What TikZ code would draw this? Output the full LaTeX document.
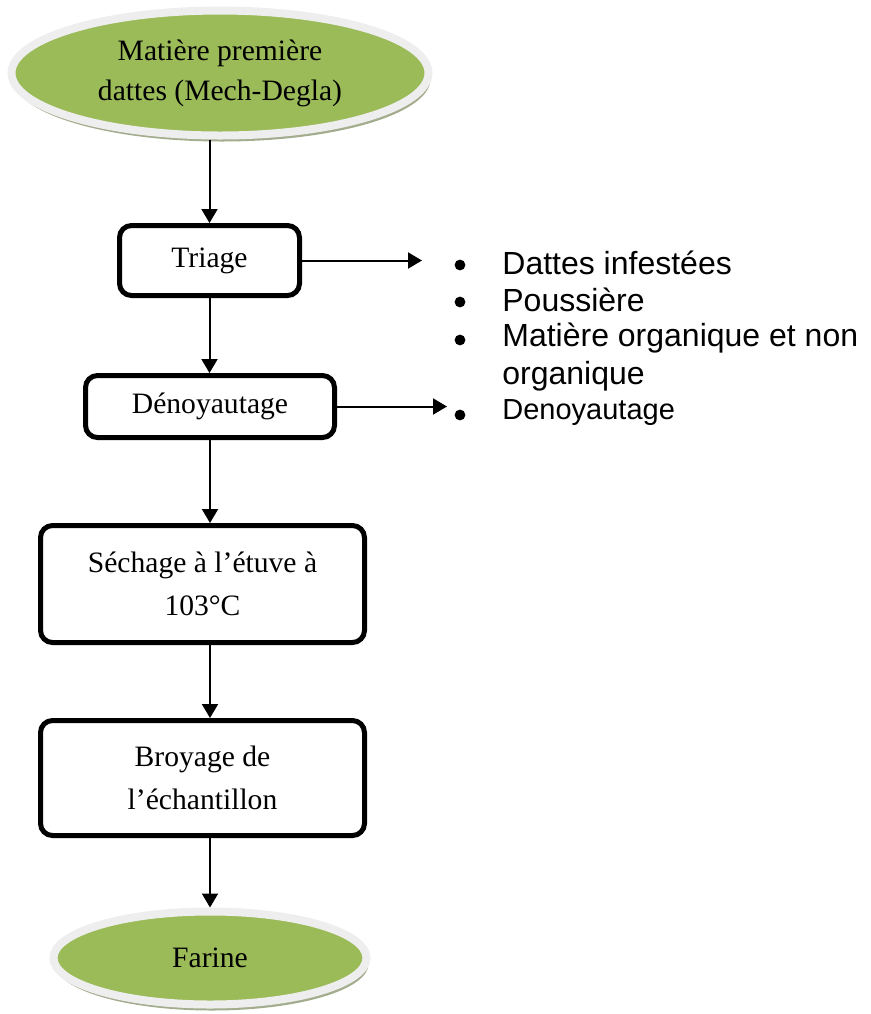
\documentclass[tikz,border=0pt]{standalone}
\usepackage{fontspec}
\setmainfont{Liberation Serif}
\newfontfamily\arialfont{Liberation Sans}
\usepackage{tikz}
\usetikzlibrary{shapes,arrows.meta,shadows}
\definecolor{olivegreen}{HTML}{9BBB59}
\definecolor{ringgrey}{HTML}{EEEEEE}
\definecolor{shadowgrey}{HTML}{A3AD8E}
\tikzstyle{block} = [rectangle, draw, line width=2.5pt, rounded corners=6pt,
                     align=center, font=\fontsize{14.8}{21.5}\selectfont]
\tikzstyle{terminal} = [ellipse, draw=ringgrey, line width=4pt, fill=olivegreen,
                     align=center, font=\fontsize{14.8}{20}\selectfont,
                     drop shadow={shadow xshift=1pt, shadow yshift=-3pt, fill=shadowgrey, opacity=1}]
\tikzstyle{line} = [draw, line width=1pt, -{Triangle[width=8pt,length=7pt]}]
\tikzstyle{item} = [anchor=west, inner sep=0pt, align=left,
                     font=\arialfont\fontsize{16}{19}\selectfont]
\tikzstyle{bul} = [circle, fill=black, inner sep=0pt, minimum size=5.4pt]

\begin{document}
\begin{tikzpicture}[x=0.5pt, y=-0.5pt]
\useasboundingbox (0,0) rectangle (871,1014);

%Raw material
\node[terminal, minimum width=208.5pt, minimum height=62.5pt] at (220,73) (raw){Matière première\\dattes (Mech-Degla)};

%Steps
\node[block, minimum width=90pt, minimum height=35pt] at (209.5,260.5) (triage){Triage};
\node[block, minimum width=124.5pt, minimum height=31pt] at (210,406.5) (denoy){Dénoyautage};
\node[block, minimum width=162pt, minimum height=58.5pt] at (202.5,584) (sechage){Séchage à l’étuve à\\103°C};
\node[block, minimum width=162pt, minimum height=57.5pt] at (202.5,778) (broyage){Broyage de\\l’échantillon};

%Product
\node[terminal, minimum width=156.5pt, minimum height=46.5pt] at (210,958) (farine){Farine};

%Waste
\node[bul] at (460,265) (b1){};
\node[bul] at (460,302) (b2){};
\node[bul] at (460,340) (b3){};
\node[bul] at (460,415) (b4){};
\node[item] at (502,263) (dattes){Dattes infestées};
\node[item] at (502,300) (pouss){Poussière};
\node[item] at (502,357.5) (matiere){Matière organique et non\\organique};
\node[item, font=\arialfont\fontsize{14.5}{17}\selectfont] at (502,413) (noyaux){Denoyautage};
\coordinate (cut1) at (422,0);
\coordinate (cut2) at (447,0);

%Arrows
\draw[line] (triage.north |- raw.south) -- (triage.north);
\draw[line] (triage.south) -- (triage.south |- denoy.north);
\draw[line] (denoy.south) -- (denoy.south |- sechage.north);
\draw[line] (denoy.south |- sechage.south) -- (denoy.south |- broyage.north);
\draw[line] (denoy.south |- broyage.south) -- (denoy.south |- farine.north);
\draw[line] (triage.east) -- (triage.east -| cut1);
\draw[line] (denoy.east) -- (denoy.east -| cut2);
\end{tikzpicture}
\end{document}
